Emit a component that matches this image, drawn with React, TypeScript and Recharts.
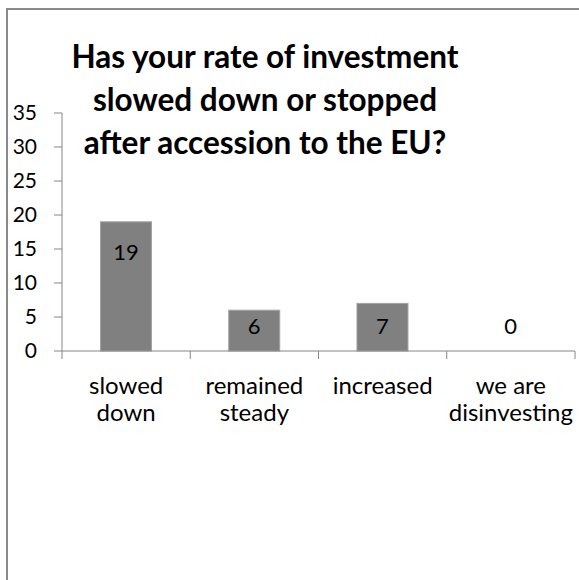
import { BarChart, Bar, XAxis, YAxis, LabelList } from 'recharts';

const CATEGORIES = ['slowed down', 'remained steady', 'increased', 'we are disinvesting'];
const CATEGORY_LINES = [['slowed', 'down'], ['remained', 'steady'], ['increased'], ['we are', 'disinvesting']];
const VALUES = [19, 6, 7, 0];
const Y_TICKS = [0, 5, 10, 15, 20, 25, 30, 35];
const TITLE_LINES = ['Has your rate of investment', 'slowed down or stopped', 'after accession to the EU?'];

const data = CATEGORIES.map((name, i) => ({ name, value: VALUES[i] }));

const W = 571;
const H = 570;
const MARGIN = { top: 103, right: 4, bottom: 169, left: 0 };
const Y_W = 54;
const PLOT_W = W - MARGIN.left - MARGIN.right - Y_W;
const BAND = PLOT_W / CATEGORIES.length;
const FONT = 'Lato, "Open Sans", sans-serif';
const AXIS = '#868686';
const FRAME = '#8a8a8a';

function CategoryTick(props: any) {
  const { x, y, index } = props;
  const lines = CATEGORY_LINES[index] || [];
  return (
    <g>
      {index === 0 && <line x1={x - BAND / 2} x2={x - BAND / 2} y1={y - 8} y2={y} stroke={AXIS} />}
      <line x1={x + BAND / 2} x2={x + BAND / 2} y1={y - 8} y2={y} stroke={AXIS} />
      <text x={x} y={y} textAnchor="middle" fontSize={24} fontFamily={FONT} fill="#000">
        {lines.map((l, i) => (
          <tspan key={i} x={x} dy={i === 0 ? 35 : 27}>
            {l}
          </tspan>
        ))}
      </text>
    </g>
  );
}

function ValueLabel(props: any) {
  const { x, y, width, height, value } = props;
  const cy = Math.min(y + 30, y + height - 26);
  return (
    <text x={x + width / 2} y={cy} textAnchor="middle" dominantBaseline="central" fontSize={22} fontFamily={FONT} fill="#000">
      {value}
    </text>
  );
}

// skip drawing the zero-height placeholder so only real bars show
function BarShape(props: any) {
  const { x, y, width, height } = props;
  if (Math.abs(height) < 1) return <g />;
  return <rect x={x} y={y} width={width} height={height} fill="#808080" stroke="#a3a3a3" />;
}

export default function App() {
  return (
    <div style={{ position: 'fixed', left: 0, top: 0, width: 579, height: 580, overflow: 'hidden', background: '#fff' }}>
      <div
        style={{
          position: 'absolute',
          left: 6,
          top: 8,
          width: 600,
          height: 600,
          borderLeft: `2px solid ${FRAME}`,
          borderTop: `2px solid ${FRAME}`,
        }}
      />
      <div
        style={{
          position: 'absolute',
          left: 8,
          width: 514,
          top: 35,
          textAlign: 'center',
          fontFamily: FONT,
          fontWeight: 700,
          fontSize: 31.5,
          lineHeight: '43px',
          color: '#000',
          zIndex: 1,
        }}
      >
        {TITLE_LINES.map((t) => (
          <div key={t}>{t}</div>
        ))}
      </div>
      <div style={{ position: 'absolute', left: 8, top: 10 }}>
        <BarChart width={W} height={H} data={data} margin={MARGIN} barCategoryGap="30%">
          <XAxis
            dataKey="name"
            axisLine={{ stroke: AXIS }}
            tickLine={false}
            tick={<CategoryTick />}
            height={60}
            interval={0}
          />
          <YAxis
            width={Y_W}
            domain={[0, 35]}
            ticks={Y_TICKS}
            interval={0}
            axisLine={{ stroke: AXIS }}
            tickLine={{ stroke: AXIS }}
            tickSize={8}
            tickMargin={17}
            tick={{ fontSize: 21, fontFamily: FONT, fill: '#000' }}
          />
          <Bar dataKey="value" minPointSize={0.01} shape={<BarShape />} isAnimationActive={false}>
            <LabelList dataKey="value" content={<ValueLabel />} />
          </Bar>
        </BarChart>
      </div>
    </div>
  );
}
